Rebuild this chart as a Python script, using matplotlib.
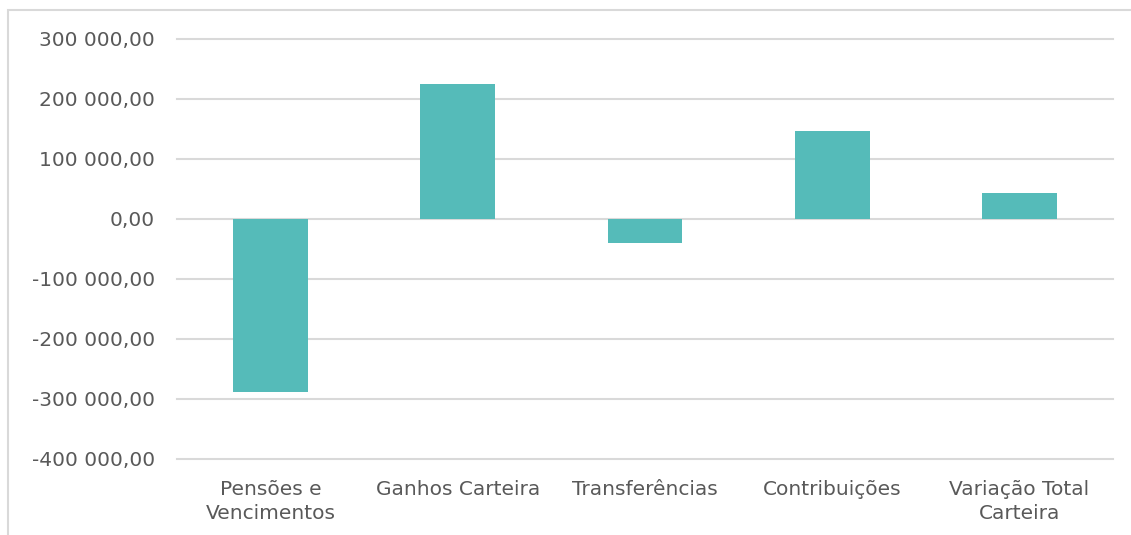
import matplotlib
matplotlib.use("Agg")
import matplotlib.pyplot as plt
from matplotlib.patches import Rectangle
from matplotlib.ticker import FuncFormatter

categories = ["Pensões e\nVencimentos", "Ganhos Carteira", "Transferências", "Contribuições", "Variação Total\nCarteira"]
values = [-288000, 225000, -40500, 146700, 43500]
yticks = [-400000, -300000, -200000, -100000, 0, 100000, 200000, 300000]

plt.rcParams['font.family'] = ['DejaVu Sans']
text_color = "#595959"
grid_color = "#D9D9D9"
bar_color = "#55BBB9"

fig = plt.figure(figsize=(11.31, 5.35), dpi=100)
ax = fig.add_axes([177/1131, 76/535, 936/1131, 420/535])

x = list(range(len(categories)))
ax.bar(x, values, width=0.4, color=bar_color, zorder=3)
ax.set_xlim(-0.5, len(categories) - 0.5)
ax.set_ylim(-400000, 300000)
ax.set_yticks(yticks)

def fmt(v, pos):
    s = f"{abs(v):,.2f}".replace(",", " ").replace(".", ",")
    return ("-" if v < 0 else "") + s
ax.yaxis.set_major_formatter(FuncFormatter(fmt))
ax.set_xticks(x)
ax.set_xticklabels(categories, linespacing=1.35)

ax.grid(axis='y', color=grid_color, linewidth=1.5, zorder=0)
for gl in ax.get_ygridlines():
    gl.set_clip_on(False)
for s in ax.spines.values():
    s.set_visible(False)
ax.tick_params(axis='both', length=0, labelsize=14.5, colors=text_color)
ax.tick_params(axis='y', pad=16)
ax.tick_params(axis='x', pad=15)

fig.patches.append(Rectangle((8/1131, -0.2), 1.5, (535-10)/535 + 0.2, transform=fig.transFigure,
                             fill=False, edgecolor=grid_color, linewidth=1.5))

fig.savefig("out.png", dpi=100)
